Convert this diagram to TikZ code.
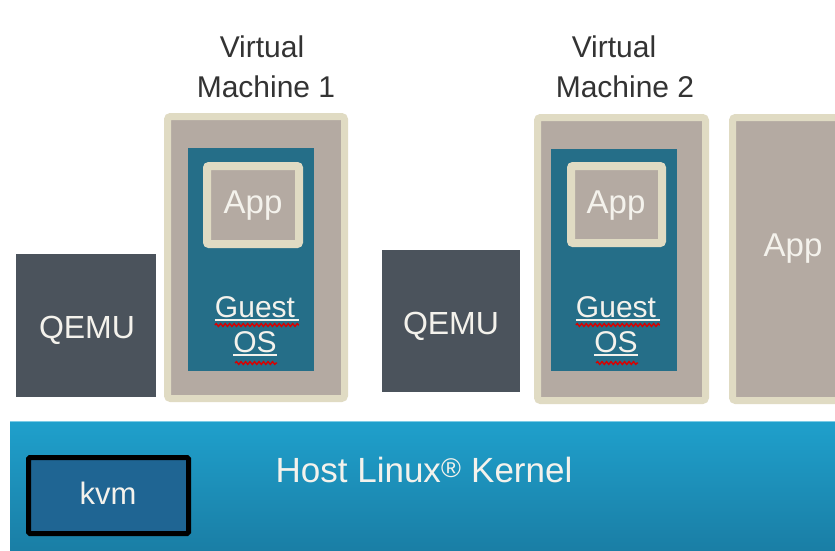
\documentclass[tikz,border=0pt]{standalone}
\usepackage{fontspec}
\setmainfont{Liberation Sans}
\usetikzlibrary{decorations.pathmorphing}
\definecolor{taupe}{HTML}{B4AAA2}
\definecolor{cream}{HTML}{E0DBC3}
\definecolor{guestc}{HTML}{256E88}
\definecolor{qemuc}{HTML}{4B535C}
\definecolor{kerntop}{HTML}{1FA0CC}
\definecolor{kernbot}{HTML}{1A7EA5}
\definecolor{kernedge}{HTML}{7CCBE6}
\definecolor{kvmc}{HTML}{1F6593}
\definecolor{labelc}{HTML}{333333}
\definecolor{lighttext}{HTML}{F4F2EC}
\begin{document}
\begin{tikzpicture}[x=1pt,y=-1pt,
  box/.style={anchor=north west, inner sep=0pt, outer sep=0pt},
  vmbox/.style={box, fill=taupe, draw=cream, line width=7pt, rounded corners=3pt},
  appbox/.style={box, fill=taupe, draw=cream, line width=8pt, rounded corners=2pt},
  guestbox/.style={box, fill=guestc},
  qemubox/.style={box, fill=qemuc},
  wtext/.style={anchor=base, inner sep=0pt, text=lighttext},
  apptext/.style={wtext, font=\fontsize{33}{33}\selectfont},
  guesttext/.style={wtext, font=\fontsize{30}{30}\selectfont},
  qemutext/.style={wtext, font=\fontsize{32}{32}\selectfont},
  vmlabel/.style={anchor=base, inner sep=0pt, text=labelc, font=\fontsize{30}{40}\selectfont},
  squiggle/.style={draw=red!85!black, line width=1.4pt, decorate, decoration={snake, amplitude=1.4pt, segment length=4.5pt}},
  uline/.style={draw=lighttext, line width=1.2pt}
]
\clip (0,0) rectangle (835,550);
\fill[white] (0,0) rectangle (835,550);

% kernel band
\node[box, minimum width=830, minimum height=130, top color=kerntop, bottom color=kernbot] (kernel) at (10,421) {};
\draw[kernedge, line width=1pt] (kernel.north west) -- (kernel.north east);
\node[box, fill=kvmc, draw=black, line width=5pt, rounded corners=1.5pt, minimum width=160, minimum height=76] (kvm) at (28.5,457.5) {};
\node[wtext, font=\fontsize{31}{31}\selectfont] (kvmt) at (108,504) {kvm};
\node[wtext, font=\fontsize{35}{35}\selectfont] (hostt) at (424,482) {Host Linux\textsuperscript{\raisebox{-0.35ex}{\fontsize{27}{27}\selectfont\textregistered}} Kernel};

% QEMU boxes
\node[qemubox, minimum width=140, minimum height=143] (qemu1) at (16,254) {};
\node[qemutext] (qemu1t) at (87,338) {QEMU};
\node[qemubox, minimum width=138, minimum height=142] (qemu2) at (382,250) {};
\node[qemutext] (qemu2t) at (451,334) {QEMU};

% VM 1
\node[vmlabel] (vm1l1) at (262,57) {Virtual};
\node[vmlabel] (vm1l2) at (266,97) {Machine 1};
\node[vmbox, minimum width=177, minimum height=282] (vm1) at (167.5,116.5) {};
\node[guestbox, minimum width=126, minimum height=223] (gos1) at (188,148) {};
\node[appbox, minimum width=92, minimum height=78] (app1) at (207,166) {};
\node[apptext] (app1t) at (253,213) {App};
\node[guesttext] (guest1t) at (255,317) {Guest};
\node[guesttext] (os1t) at (255,352) {OS};
\draw[uline] (guest1t.base west) ++(0,3) -- ++(84,0);
\draw[uline] (os1t.base west) ++(0,3) -- ++(44,0);
\draw[squiggle] (guest1t.base west) ++(0,8) -- ++(84,0);
\draw[squiggle] (os1t.base west) ++(2,11) -- ++(42,0);

% VM 2
\node[vmlabel] (vm2l1) at (614,57) {Virtual};
\node[vmlabel] (vm2l2) at (625,97) {Machine 2};
\node[vmbox, minimum width=168, minimum height=283] (vm2) at (537.5,117.5) {};
\node[guestbox, minimum width=126, minimum height=222] (gos2) at (551,149) {};
\node[appbox, minimum width=91, minimum height=77] (app2) at (571,166) {};
\node[apptext] (app2t) at (616,213) {App};
\node[guesttext] (guest2t) at (616,317) {Guest};
\node[guesttext] (os2t) at (616,352) {OS};
\draw[uline] (guest2t.base west) ++(0,3) -- ++(84,0);
\draw[uline] (os2t.base west) ++(0,3) -- ++(44,0);
\draw[squiggle] (guest2t.base west) ++(0,8) -- ++(84,0);
\draw[squiggle] (os2t.base west) ++(2,11) -- ++(42,0);

% native app
\node[vmbox, minimum width=120, minimum height=283] (app3) at (732.5,117.5) {};
\node[apptext] (app3t) at (793,256) {App};
\end{tikzpicture}
\end{document}
